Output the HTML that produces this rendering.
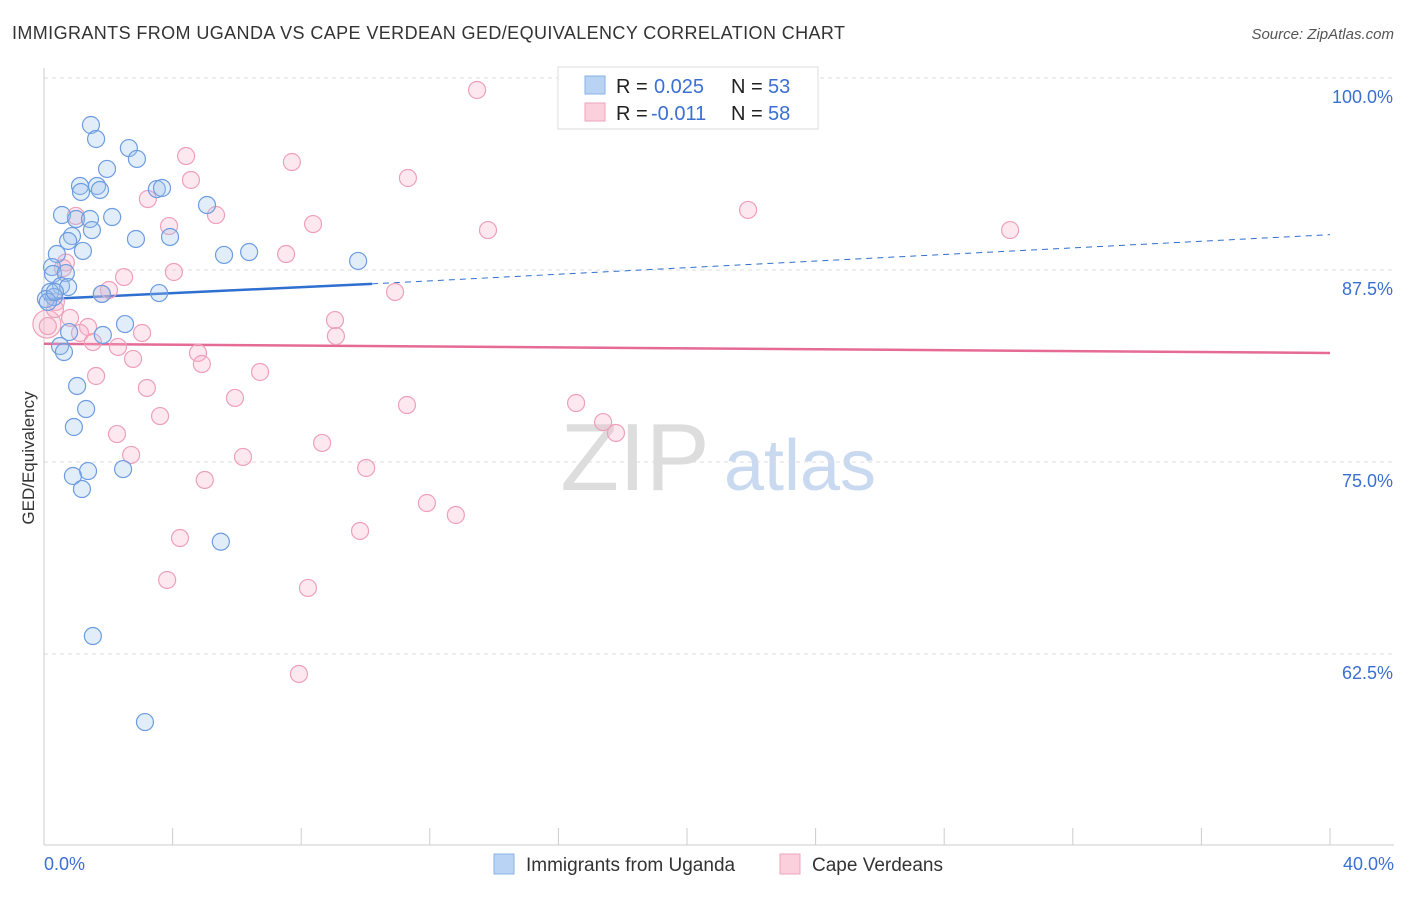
<!DOCTYPE html>
<html><head><meta charset="utf-8"><style>
body{margin:0;background:#fff;font-family:"Liberation Sans",sans-serif}
svg text{font-family:"Liberation Sans",sans-serif}
</style></head><body>
<svg id="chart" width="1406" height="892">
<text x="12" y="39" font-size="18" fill="#333" textLength="833" lengthAdjust="spacing">IMMIGRANTS FROM UGANDA VS CAPE VERDEAN GED/EQUIVALENCY CORRELATION CHART</text>
<text x="1394" y="39" font-size="15" fill="#555" font-style="italic" text-anchor="end">Source: ZipAtlas.com</text>
<text x="34" y="458" font-size="17" fill="#333" transform="rotate(-90 34 458)" text-anchor="middle">GED/Equivalency</text>
<g><text x="635" y="490" font-size="96" fill="#ddd" font-family="Liberation Serif" text-anchor="middle">ZIP</text><text x="800" y="490" font-size="72" fill="#c9daf0" text-anchor="middle">atlas</text></g>
<g id="grid"></g><g id="axes"></g><g id="trend"></g><g id="pts"></g>
<g>
<rect x="558" y="67" width="260" height="62" fill="#fff" stroke="#ddd"/>
<rect x="585" y="76" width="20" height="18" fill="#b9d3f5" stroke="#8ab1e6"/>
<text x="616" y="93" font-size="20" fill="#222">R =</text><text x="654" y="93" font-size="20" fill="#3b6fd1">0.025</text>
<text x="731" y="93" font-size="20" fill="#222">N =</text><text x="768" y="93" font-size="20" fill="#3b6fd1">53</text>
<rect x="585" y="103" width="20" height="18" fill="#fbcfdc" stroke="#eea6bd"/>
<text x="616" y="120" font-size="20" fill="#222">R =</text><text x="651" y="120" font-size="20" fill="#3b6fd1">-0.011</text>
<text x="731" y="120" font-size="20" fill="#222">N =</text><text x="768" y="120" font-size="20" fill="#3b6fd1">58</text>
</g>
<g>
<rect x="494" y="854" width="20" height="20" fill="#b9d3f5" stroke="#8ab1e6"/>
<text x="526" y="871" font-size="19" fill="#333">Immigrants from Uganda</text>
<rect x="780" y="854" width="20" height="20" fill="#fbcfdc" stroke="#eea6bd"/>
<text x="812" y="871" font-size="19" fill="#333">Cape Verdeans</text>
</g>
</svg>
<script>
const yTicks=[100,87.5,75,62.5];
const yTickLabels=["100.0%","87.5%","75.0%","62.5%"];
const xTickLabels=["0.0%","40.0%"];
const blueX=[1.46,1.62,2.64,2.89,1.96,1.12,1.65,1.15,1.74,3.51,3.67,5.07,0.56,1.0,1.43,2.12,1.49,0.87,0.75,2.86,3.92,0.40,1.21,5.6,6.38,9.77,0.25,0.28,0.68,0.53,0.75,0.19,0.31,0.06,1.8,3.58,2.52,0.78,1.83,0.5,0.62,1.03,1.31,0.93,1.37,0.9,2.46,1.18,5.5,1.52,3.14,0.12,0.34];
const blueY=[96.94,96.03,95.44,94.73,94.08,92.97,92.97,92.58,92.71,92.77,92.84,91.73,91.08,90.82,90.82,90.95,90.1,89.71,89.39,89.52,89.65,88.54,88.74,88.48,88.67,88.09,87.69,87.24,87.3,86.46,86.39,86.07,85.74,85.61,85.94,86.0,83.98,83.46,83.27,82.55,82.16,79.95,78.45,77.28,74.41,74.09,74.54,73.24,69.81,63.67,58.07,85.42,86.07];
const pinkX=[13.47,4.42,7.71,4.57,11.32,3.23,5.35,8.37,3.89,13.81,21.9,30.05,0.99,7.53,0.68,4.04,2.49,0.59,10.92,2.02,1.8,0.37,0.81,9.05,1.37,1.12,3.05,1.52,9.08,2.3,4.79,2.77,4.91,6.72,1.62,3.2,5.94,11.29,16.55,3.61,17.39,17.79,2.27,8.65,2.71,6.19,10.02,5.0,11.91,12.81,4.23,9.83,3.83,8.21,7.93,0.09,0.34,0.12];
const pinkY=[99.22,94.92,94.53,93.36,93.49,92.12,91.08,90.49,90.36,90.1,91.41,90.1,91.02,88.54,87.99,87.37,87.04,87.63,86.07,86.2,85.94,85.42,84.38,84.24,83.79,83.4,83.4,82.81,83.2,82.49,82.1,81.71,81.38,80.86,80.6,79.82,79.17,78.71,78.84,77.99,77.6,76.89,76.82,76.24,75.46,75.33,74.61,73.83,72.33,71.55,70.05,70.51,67.32,66.8,61.2,83.98,84.96,83.85];
const X0=44,X1=1330,Y0=78,YS=15.36;
const sx=v=>X0+(X1-X0)*v/40, sy=v=>Y0+(100-v)*YS;
const NS="http://www.w3.org/2000/svg";
function mk(tag,a,parent){const e=document.createElementNS(NS,tag);for(const k in a)e.setAttribute(k,a[k]);document.getElementById(parent).appendChild(e);return e;}
yTicks.forEach((t,i)=>{
 const g=mk('line',{x1:44,x2:1394,y1:sy(t),y2:sy(t),stroke:'#ddd','stroke-dasharray':'4,4'},'grid');
 
 
 const tx=mk('text',{x:1393,y:sy(t)+25,'font-size':18,fill:'#3b6fd1','text-anchor':'end'},'axes');
 tx.textContent=yTickLabels[i];
 
 
});
const ax=mk('line',{x1:44,x2:1394,y1:845,y2:845,stroke:'#ccc'},'axes');


const ay=mk('line',{x1:44,x2:44,y1:68,y2:845,stroke:'#ccc'},'axes');


for(let i=1;i<=10;i++){const t=mk('line',{x1:sx(i*4),x2:sx(i*4),y1:828,y2:845,stroke:'#ccc'},'axes');
 
 }
const xl0=mk('text',{x:44,y:870,'font-size':18,fill:'#3b6fd1'},'axes');xl0.textContent=xTickLabels[0];


const xl1=mk('text',{x:1394,y:870,'font-size':18,fill:'#3b6fd1','text-anchor':'end'},'axes');xl1.textContent=xTickLabels[1];


pinkX.forEach((v,i)=>{const c=mk('circle',{cx:sx(v),cy:sy(pinkY[i]),r:i==55?14:8.5,fill:'rgba(248,180,202,0.3)',stroke:'#eea0b9','stroke-width':1.2},'pts');
 
 });
blueX.forEach((v,i)=>{const c=mk('circle',{cx:sx(v),cy:sy(blueY[i]),r:8.5,fill:'rgba(160,196,240,0.3)',stroke:'#6d9de0','stroke-width':1.2},'pts');
 
 });
const b1=mk('line',{x1:sx(0),y1:sy(85.6),x2:sx(10.2),y2:sy(86.6),stroke:'#2f6fd0','stroke-width':2.5},'trend');


const b2=mk('line',{x1:sx(10.2),y1:sy(86.6),x2:sx(40),y2:sy(89.8),stroke:'#2f6fd0','stroke-width':1,'stroke-dasharray':'6,5'},'trend');


const p1=mk('line',{x1:sx(0),y1:sy(82.7),x2:sx(40),y2:sy(82.1),stroke:'#e56a95','stroke-width':2.5},'trend');


</script>
</body></html>
